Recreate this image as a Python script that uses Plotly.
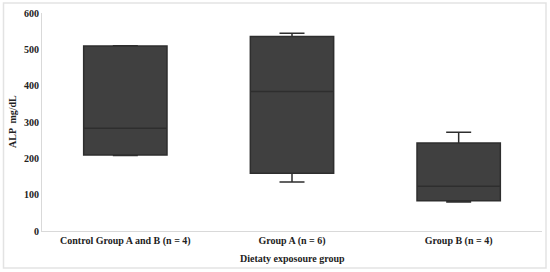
import plotly.graph_objects as go

groups = ["Control Group A and B (n = 4)", "Group A (n = 6)", "Group B (n = 4)"]
q1 = [209, 159, 83]
median = [283, 384, 123]
q3 = [509, 535, 242]
lower = [208, 135, 80]
upper = [510, 544, 272]

serif = "Liberation Serif"
bold = dict(size=10, family=serif, weight="bold", color="#222")

fig = go.Figure()
fig.add_trace(go.Box(
    x=groups, q1=q1, median=median, q3=q3,
    lowerfence=lower, upperfence=upper,
    fillcolor="#404040", line=dict(color="#2e2e2e", width=1.5),
    whiskerwidth=0.3, boxpoints=False, showlegend=False,
))

fig.update_layout(
    width=550, height=272,
    margin=dict(l=42, r=8, t=13, b=41),
    plot_bgcolor="white", paper_bgcolor="white",
    boxgap=0.5, boxgroupgap=0,
    font=dict(family=serif, color="#222"),
    shapes=[dict(type="rect", xref="paper", yref="paper",
                 x0=-0.077, x1=1.008, y0=-0.17, y1=1.046,
                 line=dict(color="#e3e3e3", width=1.5))],
    annotations=[
        dict(text="Dietaty exposoure group", xref="paper", yref="paper",
             x=0.5, y=-0.128, showarrow=False, font=bold,
             xanchor="center", yanchor="middle"),
        dict(text="ALP  mg/dL", xref="paper", yref="paper",
             x=-0.06, y=0.5, showarrow=False, font=bold, textangle=-90,
             xanchor="center", yanchor="middle"),
    ],
)
fig.update_xaxes(
    automargin=False,
    showline=True, linecolor="#d9d9d9", showgrid=False, ticks="",
    tickfont=bold,
)
fig.update_yaxes(
    automargin=False,
    range=[0, 600], dtick=100, showline=True, linecolor="#d9d9d9",
    showgrid=False, zeroline=False, ticks="",
    tickfont=bold,
)

# the page body has a default margin, drop it so the figure sits at 0,0
fig.write_html("out.html", config={"displayModeBar": False},
               post_script="document.body.style.margin='0';")
